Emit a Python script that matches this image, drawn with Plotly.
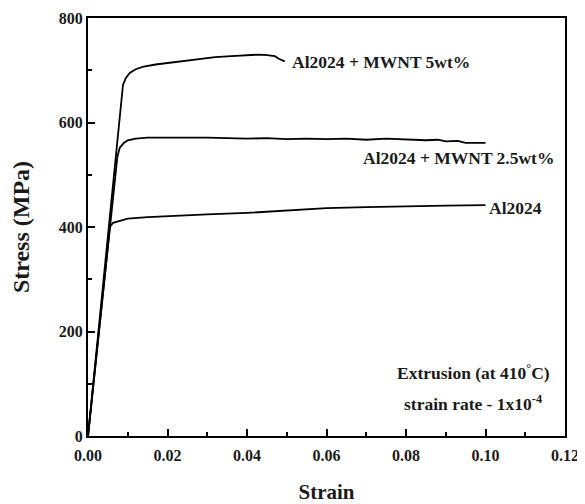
import plotly.graph_objects as go

# Al2024 + MWNT 5wt%
strain_5 = [0.0, 0.0030, 0.0060, 0.0088, 0.0095, 0.0105, 0.012, 0.014, 0.017, 0.020, 0.024, 0.028, 0.032, 0.036, 0.040, 0.043, 0.045, 0.047, 0.048, 0.0495]
stress_5 = [0, 225, 455, 672, 685, 695, 702, 707, 711, 714, 718, 722, 725, 727, 728, 730, 729, 727, 722, 717]

# Al2024 + MWNT 2.5wt%
strain_25 = [0.0, 0.0030, 0.0060, 0.0074, 0.0080, 0.0090, 0.0100, 0.012, 0.015, 0.018, 0.022, 0.026, 0.030, 0.035, 0.040, 0.045, 0.050, 0.055, 0.060, 0.065, 0.070, 0.075, 0.080, 0.085, 0.088, 0.090, 0.093, 0.095, 0.100]
stress_25 = [0, 220, 440, 535, 552, 561, 566, 569, 571, 571, 572, 571, 571, 570, 569, 570, 568, 569, 568, 569, 567, 569, 568, 566, 567, 564, 565, 561, 561]

# Al2024
strain_0 = [0.0, 0.0030, 0.0055, 0.0063, 0.0075, 0.010, 0.015, 0.020, 0.030, 0.040, 0.045, 0.050, 0.055, 0.060, 0.070, 0.080, 0.090, 0.100]
stress_0 = [0, 220, 400, 408, 411, 416, 419, 421, 424, 427, 429, 432, 434, 436, 438, 440, 441, 442]

series_labels = ["Al2024 + MWNT 5wt%", "Al2024 + MWNT 2.5wt%", "Al2024"]
x_ticks = [0.00, 0.02, 0.04, 0.06, 0.08, 0.10, 0.12]
y_ticks = [0, 200, 400, 600, 800]

FONT = "Liberation Serif"
TXT = "#1a1a1a"

fig = go.Figure()
for xs, ys in [(strain_5, stress_5), (strain_25, stress_25), (strain_0, stress_0)]:
    fig.add_trace(go.Scatter(x=xs, y=ys, mode="lines",
                             line=dict(color="black", width=1.8),
                             showlegend=False, hoverinfo="skip"))

lab_font = dict(family=FONT, size=17.5, color=TXT)
# series labels
fig.add_annotation(x=0.0508, y=716, text="<b>" + series_labels[0] + "</b>", showarrow=False,
                   xanchor="left", yanchor="middle", font=lab_font)
fig.add_annotation(x=0.0688, y=532, text="<b>" + series_labels[1] + "</b>", showarrow=False,
                   xanchor="left", yanchor="middle", font=lab_font)
fig.add_annotation(x=0.1003, y=436, text="<b>" + series_labels[2] + "</b>", showarrow=False,
                   xanchor="left", yanchor="middle", font=lab_font)

# condition notes
fig.add_annotation(x=0.1168, y=122, text="<b>Extrusion (at 410<sup>°</sup>C)</b>", showarrow=False,
                   xanchor="right", yanchor="middle", font=lab_font)
fig.add_annotation(x=0.1148, y=64, text="<b>strain rate - 1x10<sup>-4</sup></b>", showarrow=False,
                   xanchor="right", yanchor="middle", font=lab_font)

axis_common = dict(
    showgrid=False, zeroline=False, showline=True, linecolor="black", linewidth=2,
    mirror=True, ticks="inside", ticklen=7, tickwidth=2, tickcolor="black",
    tickfont=dict(family=FONT, size=16, color=TXT, weight="bold"),
    automargin=False,
)

fig.update_xaxes(range=[0, 0.12], tickvals=x_ticks, ticktext=[f"{v:.2f}" for v in x_ticks],
                 ticklabelstandoff=4,
                 minor=dict(dtick=0.01, ticks="inside", ticklen=4, tickwidth=2, tickcolor="black"),
                 title=dict(text="<b>Strain</b>", font=dict(family=FONT, size=21, color=TXT), standoff=26),
                 **axis_common)
fig.update_yaxes(range=[0, 800], tickvals=y_ticks, ticktext=[str(v) for v in y_ticks],
                 minor=dict(dtick=100, ticks="inside", ticklen=4, tickwidth=2, tickcolor="black"),
                 title=dict(text="<b>Stress (MPa)</b>", font=dict(family=FONT, size=24, color=TXT), standoff=22),
                 **axis_common)

# page body adds an 8px offset; figure sized to fill the rest of the 585x504 window
fig.update_layout(width=577, height=496, margin=dict(l=80, r=20, t=10, b=68),
                  plot_bgcolor="white", paper_bgcolor="white")

fig.write_html("out.html")
